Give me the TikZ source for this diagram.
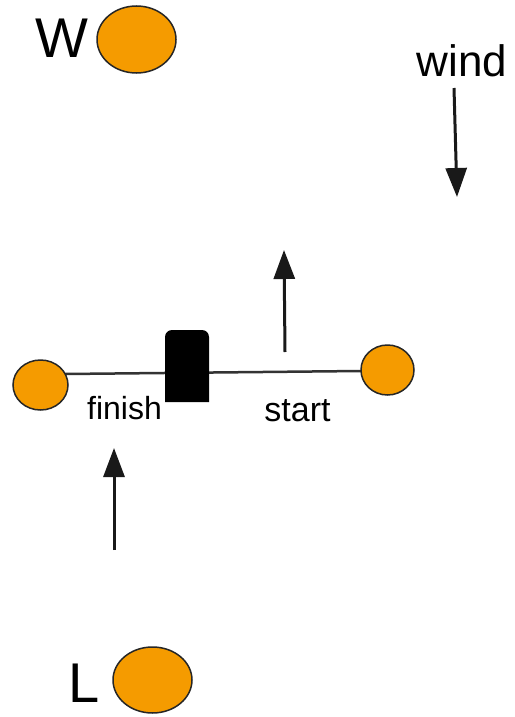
\documentclass[tikz,border=0pt]{standalone}
\usepackage{fontspec}
\setmainfont{Liberation Sans}
\usetikzlibrary{shapes, arrows.meta, positioning}
\definecolor{buoyorange}{RGB}{245,155,0}

\begin{document}
\begin{tikzpicture}[x=1pt, y=-1pt,
    buoy/.style={ellipse, draw=black!85, line width=1.5pt, fill=buoyorange, inner sep=0pt},
    course/.style={draw=black!90, line width=3pt, -{Triangle[length=29pt, width=21pt]}},
    marktext/.style={inner sep=0pt, anchor=base, font=\fontsize{32}{32}\selectfont},
    letter/.style={inner sep=0pt, anchor=base, font=\fontsize{56}{56}\selectfont}]
    \useasboundingbox (0,0) rectangle (514,717);

    \node[buoy, minimum width=79pt, minimum height=67pt] (W) at (136.5,39.5) {};
    \node[letter] (Wtext) at (62,58) {W};
    \node[buoy, minimum width=79pt, minimum height=66pt] (L) at (152.5,680) {};
    \node[letter] (Ltext) at (84.5,702) {L};

    \coordinate (linestart) at (65,374);
    \coordinate (lineend) at (361,371);
    \draw[draw=black!80, line width=2.5pt] (linestart) -- (lineend);
    \node[buoy, minimum width=55pt, minimum height=50pt] (pin) at (40.5,385) {};
    \node[buoy, minimum width=53pt, minimum height=50pt] (committee) at (387.5,370) {};
    \fill[black] (165,402) -- (165,337) arc[start angle=180, end angle=270, radius=7]
        -- (202,330) arc[start angle=270, end angle=360, radius=7] -- (209,402) -- cycle;

    \node[marktext] (finish) at (124.5,419) {finish};
    \node[marktext, font=\fontsize{34}{34}\selectfont] (start) at (297.5,421) {start};
    \node[marktext, font=\fontsize{44}{44}\selectfont] (wind) at (462,77) {wind};

    \coordinate (windtail) at (454,88);
    \coordinate (windtip) at (457,197);
    \draw[course] (windtail) -- (windtip);
    \coordinate (startfoot) at (285,352);
    \coordinate (starttip) at (284,250);
    \draw[course] (startfoot) -- (starttip);
    \coordinate (finishfoot) at (114,550);
    \coordinate (finishtip) at (114,448);
    \draw[course] (finishfoot) -- (finishtip);
\end{tikzpicture}
\end{document}
